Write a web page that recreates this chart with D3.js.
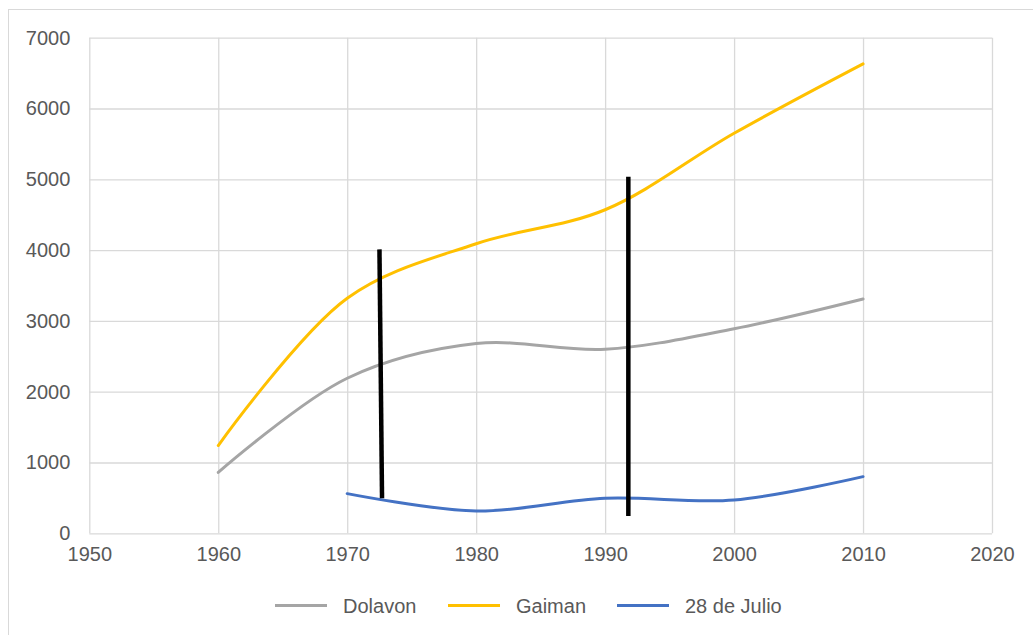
<!DOCTYPE html>
<html>
<head>
<meta charset="utf-8">
<script src="https://cdnjs.cloudflare.com/ajax/libs/d3/7.8.5/d3.min.js"></script>
<style>
  html, body { margin: 0; padding: 0; background: #fff; }
  svg { display: block; font-family: "Liberation Sans", Arial, sans-serif; }
  .tick text { fill: #595959; font-size: 20px; }
  .legend text { fill: #595959; font-size: 20px; }
</style>
</head>
<body>
<svg width="1033" height="635"></svg>
<script>
// years on the x axis
const years = [1960, 1970, 1980, 1990, 2000, 2010];

// population per town (null = no value)
const dolavon = [860, 2190, 2680, 2600, 2890, 3310];
const gaiman = [1240, 3320, 4090, 4570, 5650, 6630];
const julio28 = [null, 560, 315, 495, 470, 800];

// the two black marker lines: [year, value] top and bottom
const marker1 = [[1972.5, 4010], [1972.7, 495]];
const marker2 = [[1991.8, 5035], [1991.8, 245]];

const xTicks = [1950, 1960, 1970, 1980, 1990, 2000, 2010, 2020];
const yTicks = [0, 1000, 2000, 3000, 4000, 5000, 6000, 7000];

const series = [
  { name: "Dolavon", values: dolavon, color: "#A5A5A5" },
  { name: "Gaiman", values: gaiman, color: "#FFC000" },
  { name: "28 de Julio", values: julio28, color: "#4472C4" }
];

let svg = d3.select('svg');
let w = 1033, h = 635;
let plotLeft = 89.3, plotRight = 992, plotTop = 37.7, plotBottom = 533.3;

// chart frame (only left/top edges visible in the window)
svg.append('rect')
  .attr('x', 8.5).attr('y', 9.5)
  .attr('width', w + 20).attr('height', h + 20)
  .attr('fill', '#fff')
  .attr('stroke', '#D9D9D9')
  .attr('stroke-width', 1);

let xScale = d3.scaleLinear().domain([1950, 2020]).range([plotLeft, plotRight]);
let yScale = d3.scaleLinear().domain([0, 7000]).range([plotBottom, plotTop]);

// gridlines
let xAxis = d3.axisBottom(xScale).tickValues(xTicks).tickFormat(d3.format('d'))
  .tickSize(-(plotBottom - plotTop)).tickPadding(14);
let yAxis = d3.axisLeft(yScale).tickValues(yTicks).tickFormat(d3.format('d'))
  .tickSize(-(plotRight - plotLeft)).tickPadding(19);

let gx = svg.append('g')
  .attr('id', 'x-axis')
  .attr('transform', `translate(0, ${plotBottom})`)
  .call(xAxis);
let gy = svg.append('g')
  .attr('id', 'y-axis')
  .attr('transform', `translate(${plotLeft}, 0)`)
  .call(yAxis);

[gx, gy].forEach(g => {
  g.select('.domain').remove();
  g.selectAll('.tick line').attr('stroke', '#D9D9D9').attr('stroke-width', 1.3);
});
gx.selectAll('.tick text').attr('dy', '0.71em');

let line = d3.line()
  .defined(d => d[1] != null)
  .x(d => xScale(d[0]))
  .y(d => yScale(d[1]))
  .curve(d3.curveCatmullRom.alpha(0.5));

series.forEach(s => {
  let pts = years.map((y, i) => [y, s.values[i]]).filter(p => p[1] != null);
  svg.append('path')
    .datum(pts)
    .attr('fill', 'none')
    .attr('stroke', s.color)
    .attr('stroke-width', 3)
    .attr('stroke-linecap', 'round')
    .attr('d', line);
});

// black marker lines
let straight = d3.line().x(d => xScale(d[0])).y(d => yScale(d[1]));
[marker1, marker2].forEach(m => {
  svg.append('path')
    .attr('d', straight(m))
    .attr('stroke', '#000')
    .attr('stroke-width', 4.5)
    .attr('fill', 'none');
});

// legend
let legendX = [275, 448, 617];
let legend = svg.append('g').attr('class', 'legend');
series.forEach((s, i) => {
  let g = legend.append('g').attr('transform', `translate(${legendX[i]}, 605.5)`);
  g.append('line')
    .attr('x1', 0).attr('x2', 52)
    .attr('stroke', s.color)
    .attr('stroke-width', 3);
  g.append('text')
    .attr('x', 68)
    .attr('dy', '0.35em')
    .text(s.name);
});
</script>
</body>
</html>
